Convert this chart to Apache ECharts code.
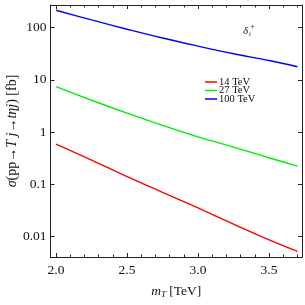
<!DOCTYPE html>
<html>
<head>
<meta charset="utf-8">
<script src="https://cdn.jsdelivr.net/npm/echarts@6/dist/echarts.min.js"></script>
<style>html,body{margin:0;padding:0;background:#fff;}#c{width:305px;height:305px;}</style>
</head>
<body>
<div id="c"></div>
<script>
const mT = [2.0, 2.25, 2.5, 2.75, 3.0, 3.25, 3.5, 3.7];
const sigma14 = [0.589, 0.292, 0.141, 0.0708, 0.0355, 0.0174, 0.0087, 0.00525];
const sigma27 = [7.41, 4.07, 2.31, 1.35, 0.81, 0.519, 0.324, 0.224];
const sigma100 = [214, 140, 93, 63, 44.2, 31.6, 23.4, 17.8];
const seriesNames = ['14 TeV', '27 TeV', '100 TeV'];
const xMajorTicks = [2.0, 2.5, 3.0, 3.5];
const xMinorTicks = [2.0, 2.1, 2.2, 2.3, 2.4, 2.5, 2.6, 2.7, 2.8, 2.9, 3.0, 3.1, 3.2, 3.3, 3.4, 3.5, 3.6, 3.7];
const yTicks = [0.01, 0.1, 1, 10, 100];
const yTickLabels = ['0.01', '0.1', '1', '10', '100'];

const FONT = 'Liberation Serif';
const xMin = 1.961, xMax = 3.732, yMin = 0.0041, yMax = 270;
const axisColor = '#222';

function pairs(xs, ys) { return xs.map((x, i) => [x, ys[i]]); }

function xAx(pos, ticks, len, labels) {
  return {
    type: 'value', position: pos, min: xMin, max: xMax,
    axisLine: { show: true, lineStyle: { color: axisColor, width: 1 } },
    axisTick: { show: true, inside: true, length: len, customValues: ticks, lineStyle: { color: axisColor, width: 1 } },
    axisLabel: labels ? { show: true, customValues: xMajorTicks, margin: 6, color: '#111', fontFamily: FONT, fontSize: 13.5, formatter: v => v.toFixed(1) } : { show: false },
    splitLine: { show: false }
  };
}
function yAx(pos, labels) {
  return {
    type: 'log', position: pos, min: yMin, max: yMax, logBase: 10,
    axisLine: { show: true, lineStyle: { color: axisColor, width: 1 } },
    axisTick: { show: true, inside: true, length: 4, customValues: yTicks, lineStyle: { color: axisColor, width: 1 } },
    axisLabel: labels ? { show: true, customValues: yTicks, margin: 4, color: '#111', fontFamily: FONT, fontSize: 13.5,
      formatter: v => { const i = yTicks.findIndex(t => Math.abs(Math.log10(t) - Math.log10(v)) < 1e-6); return i >= 0 ? yTickLabels[i] : ''; } } : { show: false },
    splitLine: { show: false }
  };
}

const xAxes = [xAx('bottom', xMajorTicks, 4, true), xAx('bottom', xMinorTicks, 2.5, false), xAx('top', xMajorTicks, 4, false), xAx('top', xMinorTicks, 2.5, false)];
xAxes[0].name = '{m|m}{s|T}{n| [TeV]}';
xAxes[0].nameLocation = 'middle';
xAxes[0].nameGap = 27;
xAxes[0].nameTextStyle = { color: '#111', fontFamily: FONT, fontSize: 13.5, rich: {
  m: { fontFamily: FONT, fontStyle: 'italic', fontSize: 13.5, color: '#111' },
  s: { fontFamily: FONT, fontStyle: 'italic', fontSize: 9, color: '#111', padding: [6, 0, 0, 0] },
  n: { fontFamily: FONT, fontSize: 13.5, color: '#111' } } };

const yAxes = [yAx('left', true), yAx('right', false)];
yAxes[0].name = '{i|σ}{n|(pp→}{i|T j}{n|→}{i|tηj}{n|) [fb]}';
yAxes[0].nameLocation = 'middle';
yAxes[0].nameGap = 31;
yAxes[0].nameMoveOverlap = false;
yAxes[0].nameTextStyle = { color: '#111', fontFamily: FONT, fontSize: 14, rich: {
  i: { fontFamily: FONT, fontStyle: 'italic', fontSize: 14, color: '#111' },
  n: { fontFamily: FONT, fontSize: 14, color: '#111' } } };

const colors = ['#ff0000', '#00ee00', '#0000ff'];
const datas = [sigma14, sigma27, sigma100];

const option = {
  animation: false,
  backgroundColor: '#fff',
  grid: { left: 50.5, right: 3, top: 5, bottom: 48, containLabel: false, outerBoundsMode: 'none' },
  xAxis: xAxes,
  yAxis: yAxes,
  legend: {
    orient: 'vertical', left: 205, top: 76.5, padding: 0, itemGap: -2.5, itemWidth: 12, itemHeight: 1.5, icon: 'rect',
    textStyle: { fontFamily: FONT, fontSize: 10.5, color: '#111', padding: [0, 0, 0, -3] },
    data: seriesNames
  },
  series: seriesNames.map((n, i) => ({
    name: n, type: 'line', xAxisIndex: 0, yAxisIndex: 0, data: pairs(mT, datas[i]),
    showSymbol: false, smooth: 0.4, lineStyle: { color: colors[i], width: 1.4 }, itemStyle: { color: colors[i] }
  })),
  graphic: [
    { type: 'text', left: 243, top: 26, style: { text: 'δ', fontFamily: FONT, fontStyle: 'italic', fontSize: 11, fill: '#222' } },
    { type: 'text', left: 249, top: 31, style: { text: 't', fontFamily: FONT, fontStyle: 'italic', fontSize: 7, fill: '#222' } },
    { type: 'text', left: 250.5, top: 23, style: { text: '+', fontFamily: FONT, fontSize: 8, fill: '#222' } }
  ]
};
const chart = echarts.init(document.getElementById('c'), null, { renderer: 'canvas' });
chart.setOption(option);
</script>
</body>
</html>
